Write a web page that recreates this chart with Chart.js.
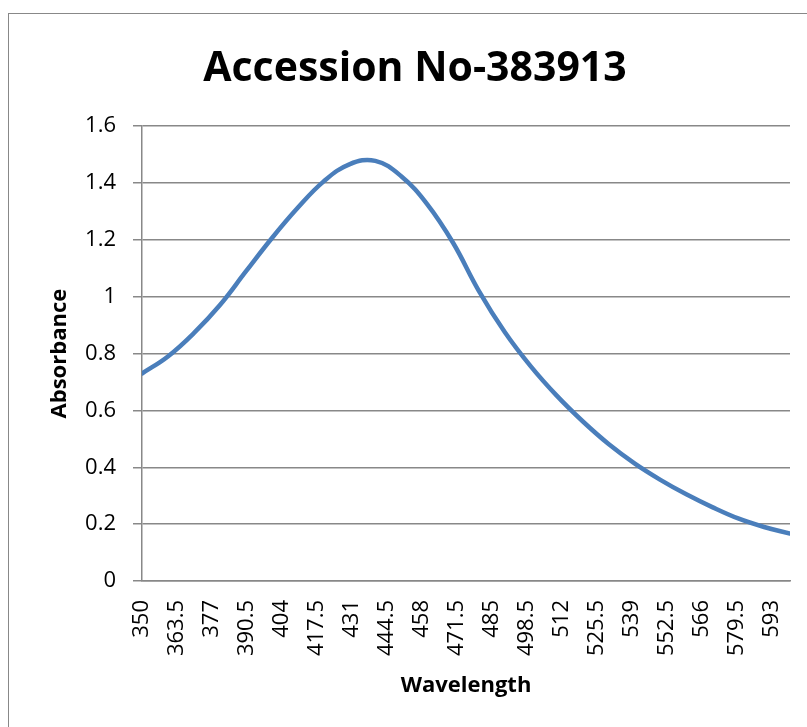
<!DOCTYPE html>
<html>
<head>
<meta charset="utf-8">
<script src="https://cdn.jsdelivr.net/npm/chart.js@4/dist/chart.umd.min.js"></script>
<style>
  html, body { margin: 0; padding: 0; background: #fff; }
  #wrap { width: 807px; height: 727px; }
</style>
</head>
<body>
<div id="wrap"><canvas id="chart" width="807" height="727"></canvas></div>
<script>
const wavelengths = [350, 360, 370, 380, 390, 400, 410, 420, 430, 440, 450, 460, 470,
  480, 490, 500, 510, 520, 530, 540, 550, 560, 570, 580, 590, 600];
const absorbance = [0.73, 0.79, 0.872, 0.97, 1.088, 1.205, 1.312, 1.405, 1.466, 1.478, 1.424, 1.326, 1.19,
  1.02, 0.875, 0.755, 0.652, 0.562, 0.482, 0.414, 0.356, 0.305, 0.26, 0.22, 0.19, 0.167];
const xTickLabels = [350, 363.5, 377, 390.5, 404, 417.5, 431, 444.5, 458, 471.5, 485,
  498.5, 512, 525.5, 539, 552.5, 566, 579.5, 593];
const yTickLabels = [0, 0.2, 0.4, 0.6, 0.8, 1, 1.2, 1.4, 1.6];

const gridGrey = '#888888';
const font = 'Open Sans';

// outer frame like the spreadsheet chart border
const framePlugin = {
  id: 'frame',
  afterDraw(chart) {
    const ctx = chart.ctx;
    ctx.save();
    ctx.strokeStyle = gridGrey;
    ctx.lineWidth = 1;
    ctx.strokeRect(8.5, 13.5, 900, 900);
    ctx.restore();
  }
};

new Chart(document.getElementById('chart'), {
  type: 'line',
  data: {
    datasets: [{
      data: wavelengths.map((w, i) => ({ x: w, y: absorbance[i] })),
      borderColor: '#4a7ebb',
      borderWidth: 4.5,
      borderCapStyle: 'round',
      pointRadius: 0,
      tension: 0.4,
      fill: false
    }]
  },
  options: {
    responsive: false,
    animation: false,
    layout: { padding: { left: 40, right: 17, top: 0, bottom: 20 } },
    plugins: {
      legend: { display: false },
      tooltip: { enabled: false },
      title: {
        display: true,
        text: 'Accession No-383913',
        color: '#000',
        font: { family: font, size: 41, weight: 'bold' },
        padding: { top: 45, bottom: 32 }
      }
    },
    scales: {
      x: {
        type: 'linear',
        min: 350,
        max: 600,
        afterFit: scale => {
          scale.height = 126;
          scale.paddingLeft = 0;
          scale.paddingRight = 0;
        },
        afterBuildTicks: scale => {
          scale.ticks = xTickLabels.map(v => ({ value: v }));
        },
        ticks: {
          autoSkip: false,
          minRotation: 90,
          maxRotation: 90,
          padding: 19,
          color: '#000',
          font: { family: font, size: 22 },
          callback: v => String(v)
        },
        grid: { display: false, drawTicks: false },
        border: { display: true, color: gridGrey, width: 1.5 },
        title: {
          display: true,
          text: 'Wavelength',
          color: '#000',
          font: { family: font, size: 22, weight: 'bold' },
          padding: { top: 0, bottom: 8 }
        }
      },
      y: {
        min: 0,
        max: 1.6,
        afterFit: scale => { scale.width = 102; },
        afterBuildTicks: scale => {
          scale.ticks = yTickLabels.map(v => ({ value: v }));
        },
        ticks: {
          padding: 17,
          color: '#000',
          font: { family: font, size: 22 },
          callback: v => String(v)
        },
        grid: { color: gridGrey, lineWidth: 1.5, tickLength: 9, drawTicks: true },
        border: { display: true, color: gridGrey, width: 1.5 },
        title: {
          display: true,
          text: 'Absorbance',
          color: '#000',
          font: { family: font, size: 22, weight: 'bold' },
          padding: { top: 7, bottom: 0 }
        }
      }
    }
  },
  plugins: [framePlugin]
});
</script>
</body>
</html>
